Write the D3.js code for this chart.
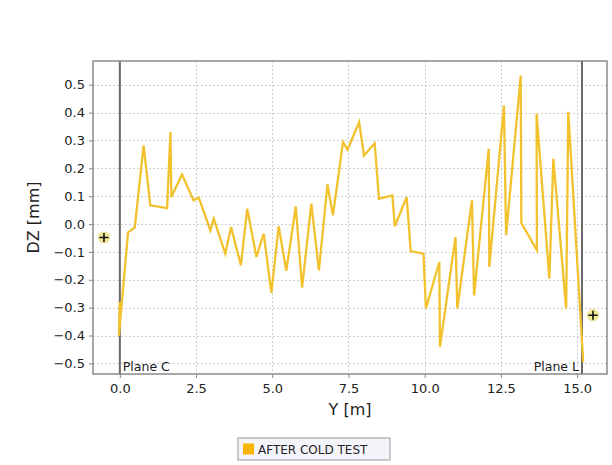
<!DOCTYPE html>
<html>
<head>
<meta charset="utf-8">
<script src="https://cdn.jsdelivr.net/npm/d3@7"></script>
<style>
  html, body { margin: 0; padding: 0; background: #fff; }
  svg { display: block; }
</style>
</head>
<body>
<svg id="chart" width="612" height="465"></svg>
<script>
// ---- data ----
const posY = [0.0, -0.03, 0.27, 0.49, 0.78, 1.0, 1.55, 1.66, 1.69, 2.04, 2.42, 2.59, 2.97, 3.08, 3.46, 3.65,
  3.97, 4.18, 4.48, 4.72, 4.97, 5.21, 5.46, 5.77, 5.98, 6.28, 6.53, 6.81, 6.99, 7.32, 7.47, 7.85,
  8.01, 8.36, 8.5, 8.94, 9.02, 9.41, 9.54, 9.96, 10.04, 10.48, 10.5, 11.01, 11.07, 11.55, 11.62,
  12.1, 12.12, 12.6, 12.67, 13.15, 13.17, 13.68, 13.67, 14.09, 14.22, 14.64, 14.71, 15.2];
const dz = [-0.28, -0.40, -0.03, -0.013, 0.282, 0.067, 0.057, 0.33, 0.097, 0.178, 0.085, 0.095, -0.023, 0.019, -0.106, -0.011,
  -0.148, 0.055, -0.118, -0.034, -0.247, -0.008, -0.168, 0.063, -0.228, 0.073, -0.166, 0.142, 0.031, 0.294, 0.267, 0.366,
  0.246, 0.29, 0.091, 0.103, -0.008, 0.097, -0.097, -0.106, -0.303, -0.136, -0.441, -0.047, -0.303, 0.085, -0.256,
  0.27, -0.154, 0.425, -0.04, 0.533, 0.004, -0.094, 0.396, -0.196, 0.234, -0.303, 0.403, -0.495];
const refPlanes = [{name: "Plane C", y: 0.0}, {name: "Plane L", y: 15.16}];
const refMarkers = [{y: -0.52, dz: -0.048}, {y: 15.52, dz: -0.327}];
const xTicks = [0, 2.5, 5, 7.5, 10, 12.5, 15];
const yTicks = [-0.5, -0.4, -0.3, -0.2, -0.1, 0.0, 0.1, 0.2, 0.3, 0.4, 0.5];
const seriesName = "AFTER COLD TEST";
const xTitle = "Y [m]";
const yTitle = "DZ [mm]";

// ---- layout ----
const svg = d3.select("#chart");
const L = 93, T = 61, W = 514, H = 313;
const x = d3.scaleLinear().domain([-0.88, 15.98]).range([L, L + W]);
const y = d3.scaleLinear().domain([-0.538, 0.585]).range([T + H, T]);
const font = "DejaVu Sans, Verdana, sans-serif";

// plot background
svg.append("rect").attr("x", L).attr("y", T).attr("width", W).attr("height", H).attr("fill", "#fff");

// grid
const grid = svg.append("g").attr("stroke", "#cfcfcf").attr("stroke-width", 1).attr("stroke-dasharray", "2,2");
grid.selectAll("line.gx").data(xTicks).join("line")
  .attr("x1", d => Math.round(x(d)) + 0.5).attr("x2", d => Math.round(x(d)) + 0.5)
  .attr("y1", T).attr("y2", T + H);
grid.selectAll("line.gy").data(yTicks).join("line")
  .attr("x1", L).attr("x2", L + W)
  .attr("y1", d => Math.round(y(d)) + 0.5).attr("y2", d => Math.round(y(d)) + 0.5);

// axes
const fmt = d3.format(".1f");
const xAxis = svg.append("g").attr("transform", `translate(0,${T + H})`)
  .call(d3.axisBottom(x).tickValues(xTicks).tickFormat(fmt).tickSize(4).tickPadding(6));
const yAxis = svg.append("g").attr("transform", `translate(${L},0)`)
  .call(d3.axisLeft(y).tickValues(yTicks).tickFormat(fmt).tickSize(4).tickPadding(4));
[xAxis, yAxis].forEach(a => {
  a.select(".domain").remove();
  a.selectAll(".tick line").attr("stroke", "#888");
  a.selectAll(".tick text").attr("fill", "#222").style("font-family", font).style("font-size", "13px");
});

// reference planes
svg.selectAll("line.plane").data(refPlanes).join("line")
  .attr("x1", d => x(d.y)).attr("x2", d => x(d.y))
  .attr("y1", T).attr("y2", T + H)
  .attr("stroke", "#6a6a6a").attr("stroke-width", 2);

// series line
const line = d3.line().x((d, i) => x(posY[i])).y(d => y(d));
svg.append("path").datum(dz)
  .attr("d", line)
  .attr("fill", "none")
  .attr("stroke", "#f2c22e")
  .attr("stroke-width", 2.3)
  .attr("stroke-linejoin", "miter");

// plane labels
svg.selectAll("text.plane").data(refPlanes).join("text")
  .attr("x", (d, i) => i === 0 ? x(d.y) + 3 : x(d.y) - 3)
  .attr("y", T + H - 3)
  .attr("text-anchor", (d, i) => i === 0 ? "start" : "end")
  .attr("fill", "#1a1a1a")
  .style("font-family", font).style("font-size", "12.5px")
  .text(d => d.name);

// markers
const mk = svg.selectAll("g.mk").data(refMarkers).join("g")
  .attr("transform", d => `translate(${x(d.y)},${y(d.dz)})`);
mk.append("circle").attr("r", 5.5).attr("fill", "#f3eb9a").attr("stroke", "#e0d070").attr("stroke-width", 0.8);
mk.append("path").attr("d", "M-4.5,0H4.5M0,-4.5V4.5").attr("stroke", "#111").attr("stroke-width", 1.6);

// frame
svg.append("rect").attr("x", L).attr("y", T).attr("width", W).attr("height", H)
  .attr("fill", "none").attr("stroke", "#8a8a8a").attr("stroke-width", 1.5);

// axis titles
svg.append("text").attr("x", L + W / 2).attr("y", 415).attr("text-anchor", "middle")
  .attr("fill", "#222").style("font-family", font).style("font-size", "16px").text(xTitle);
svg.append("text").attr("transform", `translate(39,${T + H / 2}) rotate(-90)`).attr("text-anchor", "middle")
  .attr("fill", "#222").style("font-family", font).style("font-size", "16px").text(yTitle);

// legend
const lg = svg.append("g").attr("transform", "translate(238,438)");
lg.append("rect").attr("width", 152).attr("height", 22).attr("fill", "#f4f4fb").attr("stroke", "#9a9a9a").attr("stroke-width", 1);
lg.append("rect").attr("x", 5).attr("y", 5.5).attr("width", 11).attr("height", 11).attr("fill", "#f7b500");
lg.append("text").attr("x", 20).attr("y", 15.5).attr("fill", "#222")
  .style("font-family", font).style("font-size", "12px").text(seriesName);
</script>
</body>
</html>
